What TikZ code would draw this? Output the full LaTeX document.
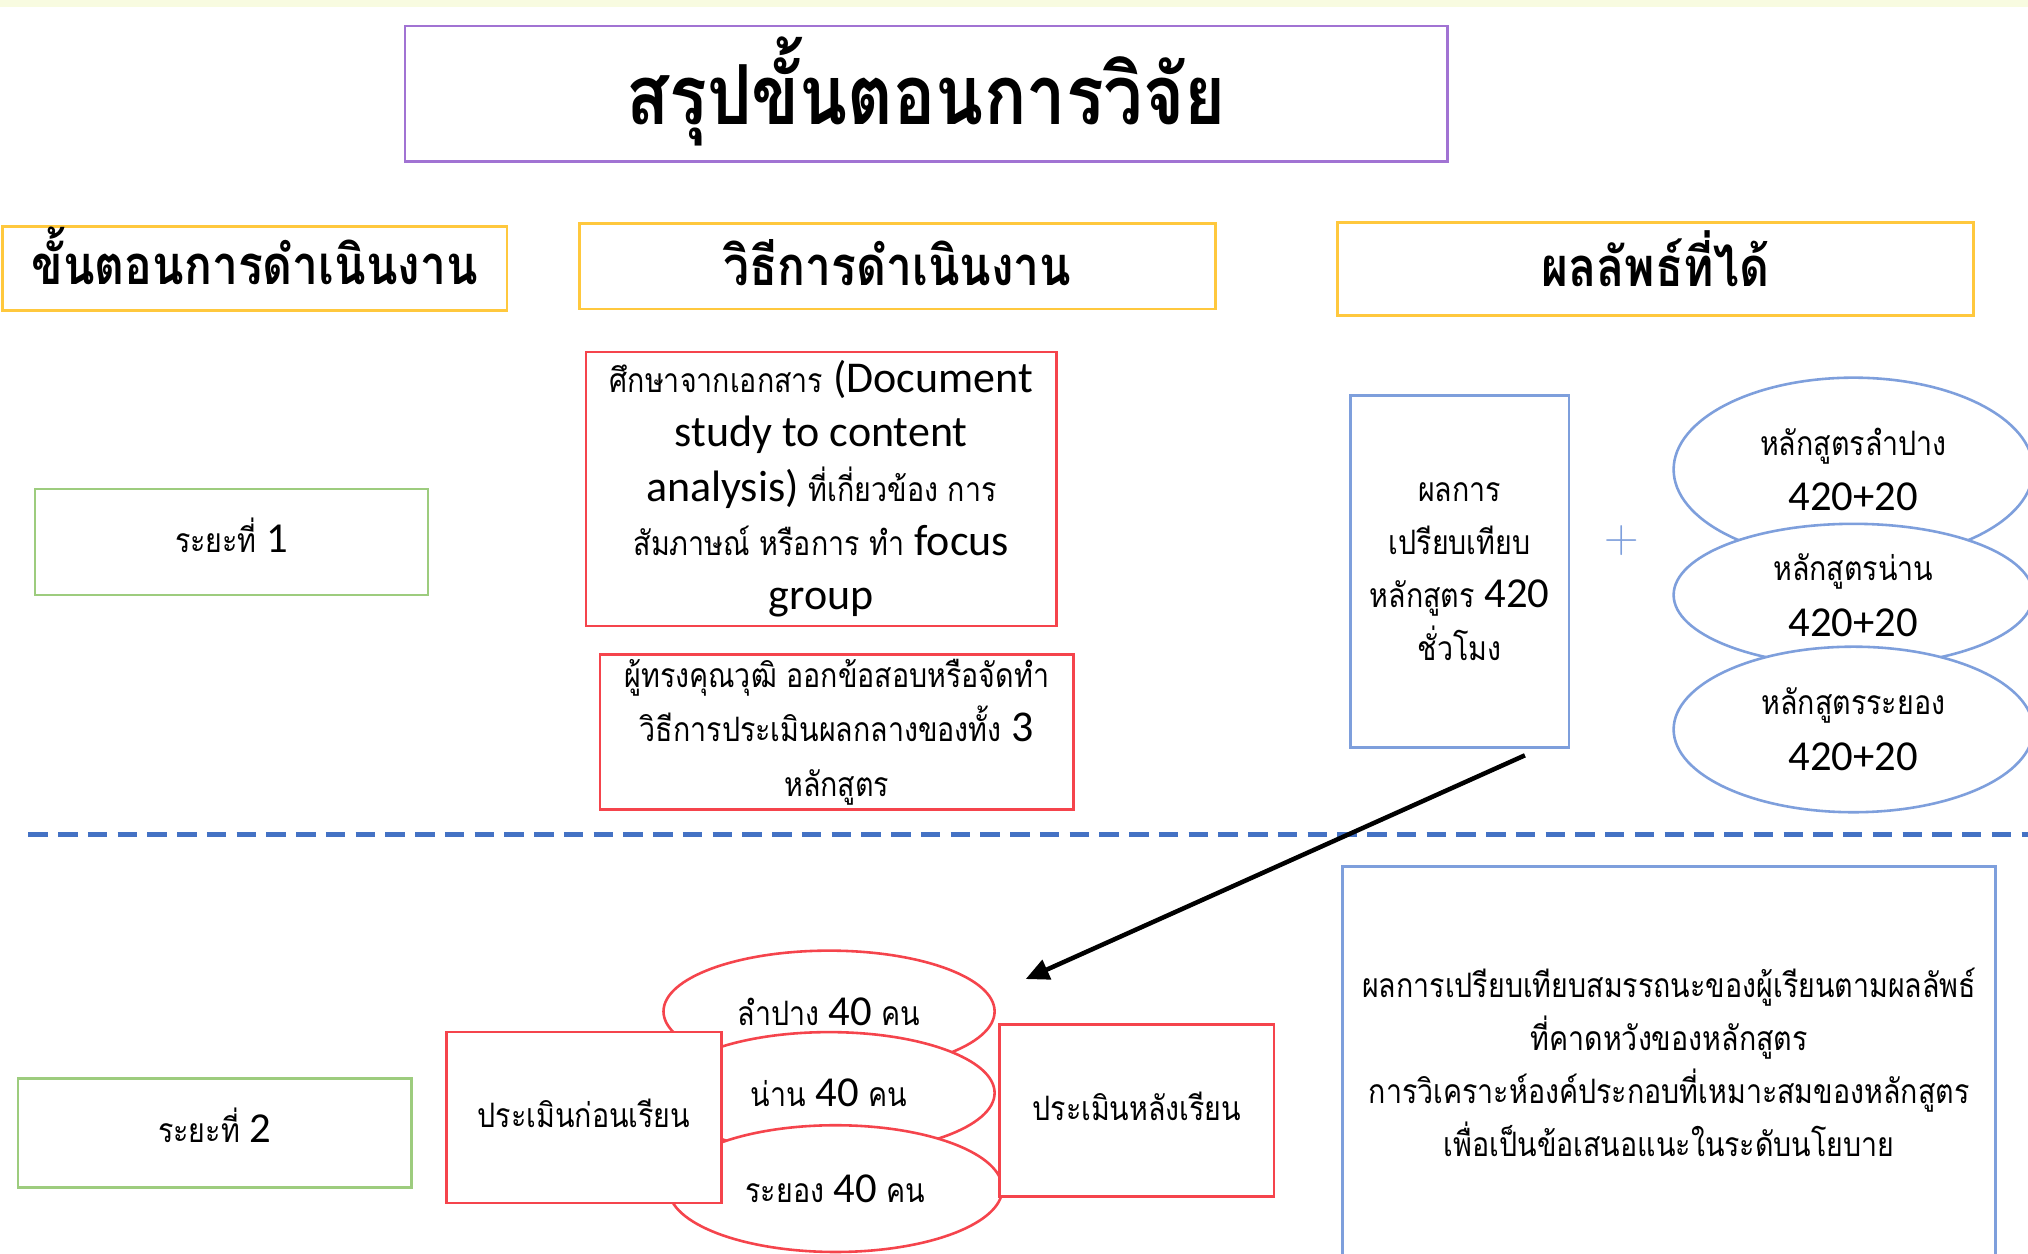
\documentclass[tikz,border=0pt]{standalone}
\usepackage{fontspec}
\usetikzlibrary{shapes.geometric,arrows.meta}
\newfontfamily\thai[Script=Thai,FakeStretch=0.85]{Loma}
\newfontfamily\calib{Carlito}
\newfontfamily\lmplus{Latin Modern Roman}
\definecolor{band}{HTML}{F8FBE0}
\definecolor{ttl}{HTML}{A173D3}
\definecolor{gold}{HTML}{FFC83D}
\definecolor{grn}{HTML}{9DCC7E}
\definecolor{rd}{HTML}{F5444C}
\definecolor{bl}{HTML}{7E9FDC}
\definecolor{dashblue}{HTML}{4472C4}
\newcommand\thx[1]{{\thai\fontsize{26pt}{42pt}\selectfont #1}}
\newcommand\up[2]{\raisebox{#1}[\height][\depth]{#2}}
\begin{document}
\begin{tikzpicture}[x=1pt,y=-1pt,
  box/.style={draw, line width=2pt, inner sep=0pt, align=center, fill=white},
  ttlbox/.style={box, draw=ttl},
  hdr/.style={box, draw=gold, font=\thai\bfseries\fontsize{42pt}{50pt}\selectfont},
  grnbox/.style={box, draw=grn, font=\calib\fontsize{33pt}{42pt}\selectfont},
  redbox/.style={box, draw=rd, font=\calib\fontsize{34pt}{42pt}\selectfont},
  bluebox/.style={box, draw=bl, font=\calib\fontsize{33pt}{41pt}\selectfont},
  blueell/.style={ellipse, draw=bl, line width=2pt, fill=white, inner sep=0pt, align=center, font=\calib\fontsize{33pt}{43pt}\selectfont},
  redell/.style={ellipse, draw=rd, line width=2pt, fill=white, inner sep=0pt, align=center, font=\calib\fontsize{33pt}{43pt}\selectfont},
]
\useasboundingbox (0,0) rectangle (1568,969);
\fill[white] (0,0) rectangle (1568,969);
\fill[band] (0,0) rectangle (1568,5.5);

\node[ttlbox, minimum width=806pt, minimum height=105pt, font=\thai\bfseries\fontsize{64pt}{70pt}\selectfont] (title) at (716,72.5) {\up{2pt}{สรุปขั้นตอนการวิจัย}};

\node[hdr, minimum width=390pt, minimum height=65pt] (h1) at (197,207.5) {\up{10pt}{ขั้นตอนการดำเนินงาน}};
\node[hdr, minimum width=492pt, minimum height=66pt] (h2) at (694,206) {\up{3pt}{วิธีการดำเนินงาน}};
\node[hdr, minimum width=492pt, minimum height=72pt] (h3) at (1280,208) {\up{8pt}{ผลลัพธ์ที่ได้}};

\node[grnbox, minimum width=304pt, minimum height=82pt] (p1) at (179,419) {\up{5pt}{\thx{ระยะที่} 1}};
\node[grnbox, minimum width=304pt, minimum height=84pt] (p2) at (166,876) {\up{6pt}{\thx{ระยะที่} 2}};

\node[redbox, minimum width=364pt, minimum height=212pt] (m1) at (635,378) {\thx{ศึกษาจากเอกสาร} (Document\\ study to content\\ analysis) \thx{ที่เกี่ยวข้อง การ}\\ \thx{สัมภาษณ์ หรือการ ทำ} focus\\ group};
\node[redbox, minimum width=366pt, minimum height=120pt] (m2) at (647,566) {\thx{ผู้ทรงคุณวุฒิ ออกข้อสอบหรือจัดทำ}\\ \thx{วิธีการประเมินผลกลางของทั้ง} 3\\ \thx{หลักสูตร}};

\node[bluebox, minimum width=169pt, minimum height=272pt] (cmp) at (1128.5,442) {\thx{ผลการ}\\ \thx{เปรียบเทียบ}\\ \thx{หลักสูตร} 420\\ \thx{ชั่วโมง}};
\node[text=bl, font=\lmplus\fontsize{37pt}{37pt}\selectfont, inner sep=0pt] (plus) at (1254,418) {+};

\node[blueell, minimum width=278pt, minimum height=142pt] (e1) at (1433,363) {\thx{หลักสูตรลำปาง}\\420+20};
\node[blueell, minimum width=278pt, minimum height=110pt] (e2) at (1433,460) {\thx{หลักสูตรน่าน}\\420+20};
\node[blueell, minimum width=278pt, minimum height=128pt] (e3) at (1433,564) {\thx{หลักสูตรระยอง}\\420+20};

\coordinate (dl) at (22,645);
\coordinate (dr) at (1568,645);
\draw[draw=dashblue, line width=4pt, dash pattern=on 15pt off 8pt] (dl) -- (dr);

\node[redell, minimum width=256pt, minimum height=94pt] (l1) at (641,782) {\thx{ลำปาง} 40 \thx{คน}};
\node[redell, minimum width=256pt, minimum height=94pt] (l2) at (641,845) {\thx{น่าน} 40 \thx{คน}};
\node[redell, minimum width=258pt, minimum height=98pt] (l3) at (646,919) {\thx{ระยอง} 40 \thx{คน}};
\node[redbox, minimum width=213pt, minimum height=132pt] (pre) at (451.5,864) {\up{3pt}{\thx{ประเมินก่อนเรียน}}};
\node[redbox, minimum width=212pt, minimum height=133pt] (post) at (879,858.5) {\up{3pt}{\thx{ประเมินหลังเรียน}}};

\node[bluebox, minimum width=505pt, minimum height=303pt] (res) at (1290.5,821.5) {\thx{ผลการเปรียบเทียบสมรรถนะของผู้เรียนตามผลลัพธ์}\\ \thx{ที่คาดหวังของหลักสูตร}\\ \thx{การวิเคราะห์องค์ประกอบที่เหมาะสมของหลักสูตร}\\ \thx{เพื่อเป็นข้อเสนอแนะในระดับนโยบาย}};

\coordinate (arrS) at (1179,584);
\coordinate (arrE) at (793,757);
\draw[line width=3.5pt, -{Triangle[length=18pt,width=16pt]}] (arrS) -- (arrE);
\end{tikzpicture}
\end{document}
